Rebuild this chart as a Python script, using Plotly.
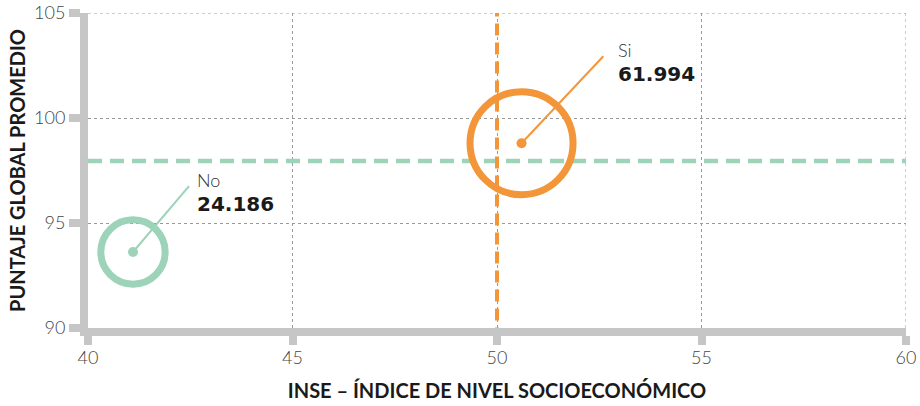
import plotly.graph_objects as go

# Data
categories = ["No", "Si"]
inse = [41.1, 50.6]
puntaje = [93.62, 98.8]
estudiantes = [24186, 61994]
count_labels = ["24.186", "61.994"]
mean_inse = 50.0
mean_puntaje = 97.95
connector_x = [42.47, 52.6]
connector_y = [96.76, 102.94]
label_x = [42.67, 52.95]
label_y = [96.76, 102.94]
x_ticks = [40, 45, 50, 55, 60]
y_ticks = [90, 95, 100, 105]

colors = ["#9DD3B8", "#F39539"]
AX = "#C6C6C6"
GRID = "#9A9A9A"
FONT = "Lato"

fig = go.Figure()

# connector lines
for i in range(2):
    fig.add_trace(go.Scatter(
        x=[inse[i], connector_x[i]], y=[puntaje[i], connector_y[i]],
        mode="lines", line=dict(color=colors[i], width=2), hoverinfo="skip"))

# bubbles
max_diam = 103.0
sizeref = 2.0 * max(estudiantes) / max_diam ** 2
fig.add_trace(go.Scatter(
    x=inse, y=puntaje, mode="markers", text=categories,
    marker=dict(size=estudiantes, sizemode="area", sizeref=sizeref, opacity=1,
                color="rgba(0,0,0,0)", line=dict(color=colors, width=7)),
    hoverinfo="text"))
# centre dots
fig.add_trace(go.Scatter(
    x=inse, y=puntaje, mode="markers",
    marker=dict(size=10, color=colors, opacity=1), hoverinfo="skip"))

# edge gridlines (top / right)
fig.add_shape(type="line", xref="x", yref="y", x0=40, x1=60, y0=105, y1=105,
              line=dict(color=GRID, width=1, dash="dot"), layer="between")
fig.add_shape(type="line", xref="x", yref="y", x0=60, x1=60, y0=90, y1=105,
              line=dict(color=GRID, width=1, dash="dot"), layer="between")

# mean lines
fig.add_shape(type="line", xref="x", yref="y", x0=40, x1=60, y0=mean_puntaje, y1=mean_puntaje,
              line=dict(color=colors[0], width=4.5, dash="14px,8px"), layer="between")
fig.add_shape(type="line", xref="x", yref="y", x0=mean_inse, x1=mean_inse, y0=89.45, y1=105,
              line=dict(color=colors[1], width=4, dash="12px,7px"), layer="above")

# labels
for i in range(2):
    fig.add_annotation(x=label_x[i], y=label_y[i], xref="x", yref="y",
                       text=categories[i], showarrow=False, xanchor="left", yanchor="bottom",
                       xshift=-2, yshift=-7,
                       font=dict(family=FONT, size=18, color="#333333", weight=300))
    fig.add_annotation(x=label_x[i], y=label_y[i], xref="x", yref="y",
                       text="<b>" + count_labels[i] + "</b>", showarrow=False,
                       xanchor="left", yanchor="top", xshift=-2, yshift=-4,
                       font=dict(family="DejaVu Sans", size=20, color="#1A1A1A"))

fig.update_layout(
    width=920, height=406,
    margin=dict(l=88, r=14, t=13, b=78),
    paper_bgcolor="white", plot_bgcolor="white",
    showlegend=False,
    font=dict(family=FONT),
)
fig.update_xaxes(
    range=[40, 60], tickvals=x_ticks, ticktext=[str(v) for v in x_ticks],
    automargin=False,
    showline=True, linecolor=AX, linewidth=8,
    ticks="outside", ticklen=9, tickwidth=8, tickcolor=AX,
    showgrid=True, gridcolor=GRID, griddash="dot", gridwidth=1,
    zeroline=False, ticklabelstandoff=-3,
    tickfont=dict(family=FONT, size=18, color="#444444", weight=300),
    title=dict(text="<b>INSE – ÍNDICE DE NIVEL SOCIOECONÓMICO</b>",
               font=dict(family=FONT, size=20, color="#1A1A1A"), standoff=20),
)
fig.update_yaxes(
    range=[90, 105], tickvals=y_ticks, ticktext=[str(v) for v in y_ticks],
    automargin=False,
    showline=True, linecolor=AX, linewidth=8,
    ticks="outside", ticklen=11, tickwidth=8, tickcolor=AX,
    showgrid=True, gridcolor=GRID, griddash="dot", gridwidth=1,
    zeroline=False,
    tickfont=dict(family=FONT, size=18, color="#444444", weight=300),
    title=dict(text="<b>PUNTAJE GLOBAL PROMEDIO</b>",
               font=dict(family=FONT, size=20, color="#1A1A1A"), standoff=6),
)

fig.write_html("out.html", config={"displayModeBar": False},
               post_script="document.body.style.margin='0';")
